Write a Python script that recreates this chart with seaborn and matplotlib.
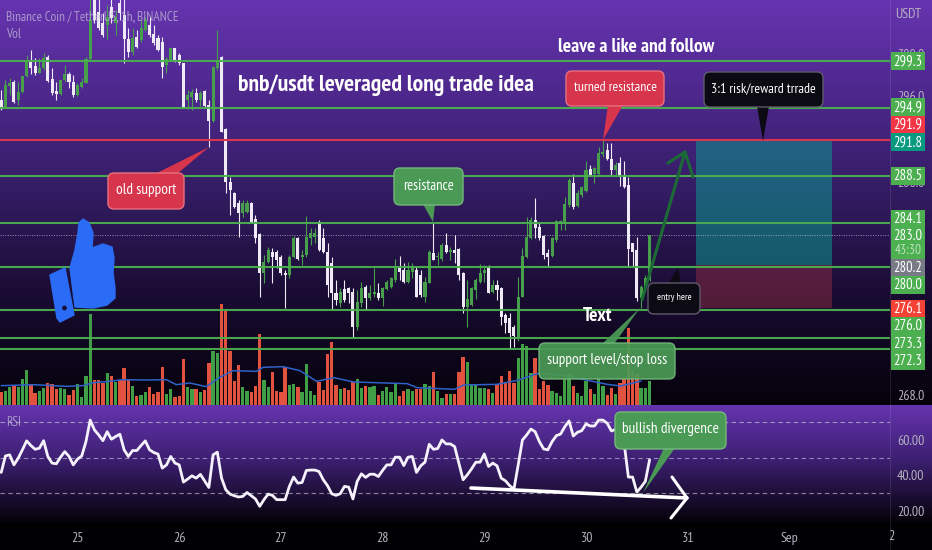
import numpy as np
import pandas as pd
import matplotlib
matplotlib.use("Agg")
import matplotlib.pyplot as plt
import seaborn as sns
from matplotlib import font_manager as fm
from matplotlib.patches import FancyBboxPatch, Polygon, Circle, Rectangle

# hourly BNB/USDT candles, first candle is Aug 24 06:00
opens = [295.65,294.86,296.96,297.36,295.65,296.43,297.90,299.33,298.83,298.20,298.61,299.71,297.58,296.49,296.21,297.52,298.08,297.36,296.10,296.83,
         297.27,299.46,305.40,303.93,302.83,302.68,304.40,302.83,304.70,303.60,301.33,300.18,301.58,301.27,302.20,302.68,301.80,301.43,301.11,298.93,
         299.40,300.55,299.86,299.08,295.65,295.90,296.33,295.65,296.52,295.18,293.71,298.61,299.71,292.90,288.00,286.96,286.02,285.02,285.18,285.96,
         284.46,283.05,279.46,280.49,281.43,281.43,280.96,279.46,279.20,280.89,282.68,280.95,281.11,282.68,282.83,284.24,282.68,281.43,280.34,277.59,
         276.59,277.93,277.99,277.68,274.40,276.59,278.09,277.05,277.45,277.59,277.05,277.90,278.15,278.77,279.87,279.71,278.62,279.55,279.71,279.24,
         277.20,278.52,281.27,280.90,280.71,282.06,281.40,281.59,281.65,279.40,276.27,276.43,277.84,278.62,279.40,279.87,277.68,278.30,277.99,275.49,
         275.18,274.40,273.40,277.21,280.90,282.68,284.40,283.77,282.90,281.27,281.02,282.52,284.00,284.24,285.80,287.90,285.71,286.74,287.15,289.15,
         288.71,288.71,290.60,290.96,290.08,289.09,289.71,288.52,287.68,282.21,281.59,277.05,277.99,278.80]
highs = [296.58,297.52,297.68,297.52,297.36,297.90,299.86,300.33,299.55,299.55,300.02,299.86,298.61,297.36,297.52,298.93,298.30,297.99,297.20,297.68,
         299.70,305.50,306.00,306.00,303.77,304.55,305.10,304.08,305.20,305.30,302.36,302.36,302.20,303.15,303.46,303.46,302.68,301.74,301.58,299.70,
         300.49,300.55,300.02,299.14,296.58,296.65,296.74,296.52,296.58,295.65,298.83,302.20,299.77,293.00,288.46,287.00,286.30,286.30,286.30,286.10,
         284.86,283.14,281.10,281.90,281.74,281.58,281.11,279.71,281.11,282.90,282.83,281.58,284.77,283.60,283.60,284.40,283.62,282.20,280.96,278.77,
         277.99,278.77,278.15,277.99,277.84,278.60,278.30,278.30,279.86,278.46,278.15,278.77,279.08,280.71,281.00,280.33,280.49,280.33,280.02,279.71,
         279.08,281.58,284.08,281.43,282.21,283.15,281.90,282.99,281.74,279.55,278.77,278.15,278.93,280.27,280.18,280.18,278.77,278.77,278.08,275.65,
         275.65,274.55,279.08,281.74,284.71,284.71,286.43,284.08,283.00,281.65,282.77,284.40,284.40,286.59,288.30,288.71,287.21,287.58,289.96,289.55,
         289.40,291.27,291.90,291.59,291.65,289.87,290.27,289.93,288.46,282.27,282.83,278.30,279.24,283.00]
lows = [294.70,294.86,296.10,295.33,295.18,296.27,297.77,298.08,297.99,298.14,298.50,297.36,296.10,295.65,296.10,297.36,296.74,295.96,296.00,296.74,
        297.20,299.40,302.83,302.20,301.58,301.33,302.83,301.74,303.15,299.08,299.71,299.86,300.49,301.11,302.14,301.58,300.80,300.27,297.68,298.14,
        299.33,299.24,298.93,294.86,294.77,294.71,295.49,295.08,295.02,291.27,293.60,298.46,292.68,286.90,284.86,285.49,282.77,284.70,285.02,284.08,
        282.20,277.20,278.46,280.33,278.52,279.86,279.24,276.11,278.92,280.80,280.65,280.20,280.96,282.05,282.21,281.50,281.27,277.20,276.00,276.43,
        276.27,276.74,276.58,273.40,274.08,276.27,275.96,276.90,277.21,276.90,276.33,277.84,278.00,278.62,278.77,278.46,278.52,278.93,277.14,277.21,
        276.74,278.46,280.65,280.18,280.58,281.27,280.65,280.33,278.77,275.65,274.40,276.33,276.96,278.52,278.62,277.52,277.59,276.90,274.55,273.77,
        272.27,272.52,273.09,277.15,280.80,282.58,282.68,282.52,280.71,279.96,280.90,282.36,283.46,283.46,285.65,285.40,285.65,286.58,287.05,288.52,
        287.90,288.62,290.27,290.02,288.52,288.62,287.58,287.37,280.02,280.02,276.84,276.12,277.84,278.70]
closes = [294.77,297.05,297.20,295.49,296.43,297.90,299.40,298.61,298.14,298.61,299.55,297.46,296.33,296.18,297.52,298.08,297.36,296.10,297.05,297.36,
          299.46,303.15,303.15,302.36,301.74,303.46,303.30,303.46,303.77,301.33,300.18,301.43,300.64,302.36,303.15,301.74,300.96,300.33,298.77,299.46,
          300.49,299.30,299.08,294.86,296.10,296.43,295.65,296.33,295.08,293.71,298.77,299.40,292.68,288.00,287.20,285.65,285.02,285.96,285.96,284.15,
          282.67,279.46,280.49,281.58,280.96,280.65,279.40,279.20,280.96,282.68,280.71,281.11,282.83,283.14,283.14,281.58,281.43,278.30,277.52,276.90,
          277.68,276.90,277.52,274.40,276.74,277.99,277.05,277.52,277.60,277.05,277.99,278.60,278.93,279.87,279.55,278.62,279.71,279.87,277.20,277.37,
          278.62,281.43,280.65,281.00,282.06,281.43,281.55,281.34,279.24,276.27,276.96,277.99,278.77,279.40,279.70,277.59,278.30,277.84,275.33,274.71,
          273.77,273.52,277.21,281.02,282.84,284.40,283.62,282.68,281.12,280.96,282.68,284.34,284.28,285.90,288.15,285.59,286.96,287.46,289.09,288.62,
          289.25,290.65,290.80,290.08,289.09,289.55,288.46,287.46,281.65,281.43,277.05,278.15,278.93,283.00]
volumes = [38,43,55,61,55,78,106,61,36,41,51,66,63,48,51,48,31,45,63,23,
           88,273,75,75,65,96,88,68,75,110,75,58,28,30,40,55,33,40,113,33,
           48,23,28,138,55,48,48,38,45,125,163,156,303,283,163,73,120,55,43,38,
           58,213,76,53,98,43,38,115,61,63,55,38,123,41,31,70,44,152,189,60,
           47,50,44,70,77,50,57,54,57,30,42,54,40,64,27,42,47,42,47,47,
           64,57,100,42,22,32,34,32,100,144,130,64,62,50,50,47,37,64,87,70,
           102,67,140,184,177,97,140,47,72,60,42,37,27,77,92,57,37,27,72,47,
           32,82,57,30,52,34,67,82,232,102,92,52,52,72]
rsi = [41.7,50.9,51.5,45.9,49.6,54.3,59.3,56.7,54.6,55.2,59.4,50.6,46.9,46.5,50.2,53.3,50.6,45.9,49.1,50.9,
       58.9,70.9,65.4,62.6,59.4,64.4,60.2,61.7,63.0,54.3,50.6,53.9,53.9,56.7,59.3,54.3,52.8,51.9,44.1,45.9,
       50.6,46.9,45.9,36.3,38.0,39.8,38.5,40.6,36.9,33.3,51.5,53.0,38.5,32.0,29.6,28.7,28.0,28.3,30.5,28.7,
       26.9,22.8,26.5,29.6,28.9,26.5,26.5,26.5,33.9,39.1,35.7,36.1,42.8,43.0,43.0,42.2,37.6,34.3,29.8,28.9,
       29.8,33.9,33.5,26.9,36.7,40.9,38.9,40.7,40.7,39.4,42.8,45.9,45.9,50.2,50.2,45.5,50.2,50.6,41.7,45.4,
       47.4,57.4,54.6,55.0,59.8,57.6,57.6,56.1,46.9,37.6,40.4,43.7,47.4,47.4,52.0,45.0,46.9,45.4,38.5,37.0,
       34.3,32.4,45.9,59.8,62.6,65.9,64.4,58.9,54.8,54.3,58.9,62.2,63.1,67.2,70.4,62.0,64.1,65.0,68.7,67.6,
       67.6,70.9,70.9,69.1,64.8,65.7,61.7,58.0,39.1,39.1,30.7,33.5,36.7,48.7]

# volume moving average, read at a few candles
vol_ma_hours = [-18,-10.5,-2.6,1.3,3.7,6.8,10.7,16.3,21,23.3,26.5,30.4,33.6,36.7,42.2,43.8,48.5,52.5,56.4,
                60.5,65.2,77.8,80.2,88.9,91.2,99,103.8,108.5,114,120,125,128.2,133]
vol_ma = [58,61,56,58,67,70,76,75,76,61,66,55,83,103,101,113,115,103,71,
          82,69,64,52,47,60,62,74,94,90,75,62,57,72]

support_levels = [299.3, 294.9, 288.5, 284.1, 280.0, 276.0, 273.3, 272.3]
resistance_level = 291.9
last_price = 283.0
entry_price = 280.2
target_price = 291.8
stop_price = 276.1
position_start, position_end = 146, 178

price_ticks = [268.0, 288.0, 296.0, 300.0]
rsi_ticks = [20, 40, 60]
rsi_bands = [30, 50, 70]
day_hours = [0, 24, 48, 72, 96, 120, 144, 168]
day_labels = ["25", "26", "27", "28", "29", "30", "31", "Sep"]

tag_labels = ["299.3", "294.9", "291.9", "291.8", "288.5", "284.1", "283.0", "280.2", "280.0", "276.1", "276.0", "273.3", "272.3"]
tag_colors = ["#4caf50", "#4caf50", "#f23645", "#089981", "#4caf50", "#4caf50", "#4caf50", "#787b86", "#4caf50", "#f44336", "#4caf50", "#4caf50", "#4caf50"]
tag_rows = [61, 107, 124.5, 142, 176, 219, 236, 268, 285, 309, 326, 344, 361]

GREEN = "#4caf50"
RED_LINE = "#d8364f"

sns.set_theme(style="dark")

# narrow face if the machine has one, otherwise Roboto a bit smaller
installed = {f.name for f in fm.fontManager.ttflist}
if "PT Sans Narrow" in installed:
    plt.rcParams["font.family"] = ["PT Sans Narrow", "DejaVu Sans"]
    FS = 1.0
else:
    plt.rcParams["font.family"] = ["Roboto", "DejaVu Sans"]
    FS = 0.8

W, H = 932, 550
X0_HOUR = -77.5 / 4.2375
X1_HOUR = (890 - 77.5) / 4.2375

fig = plt.figure(figsize=(W / 100, H / 100), dpi=100, facecolor="black")

# purple to black background, one ramp per pane
bg = fig.add_axes([0, 0, 1, 1], zorder=0)
rows = np.arange(H)
stops_y = [0, 100, 200, 300, 404, 405, 460, 521, 522, 550]
stops_c = np.array([[102, 52, 176], [76, 39, 138], [49, 27, 95], [24, 11, 48], [5, 2, 10],
                    [101, 52, 175], [60, 31, 112], [5, 2, 10], [1, 1, 3], [1, 1, 3]])
ramp = np.stack([np.interp(rows, stops_y, stops_c[:, i]) for i in range(3)], axis=1) / 255
bg.imshow(ramp[:, None, :], aspect="auto", extent=[0, W, H, 0])
bg.axvline(890, color="white", alpha=0.10, lw=0.8)
bg.axis("off")

# price pane with a hidden volume scale below the candles
ax_vol = fig.add_axes([0, (H - 405) / H, 890 / W, 405 / H], zorder=1)
ax = fig.add_axes([0, (H - 405) / H, 890 / W, 405 / H], zorder=2)
ax_rsi = fig.add_axes([0, (H - 521) / H, 890 / W, 116 / H], zorder=2)

hours = np.arange(len(opens)) - 18
df = pd.DataFrame({"hour": hours, "open": opens, "high": highs, "low": lows, "close": closes,
                   "volume": volumes, "rsi": rsi})
df["side"] = np.where(df["close"] >= df["open"], "up", "down")

ax_vol.patch.set_alpha(0)
sns.barplot(data=df, x="hour", y="volume", hue="side", native_scale=True, dodge=False, width=0.78,
            palette={"up": "#3f9e46", "down": "#e2533f"}, saturation=1, legend=False, linewidth=0, ax=ax_vol)
sns.lineplot(x=vol_ma_hours, y=vol_ma, color="#2f62c8", lw=1.1, ax=ax_vol)
ax_vol.set_xlim(X0_HOUR, X1_HOUR)
ax_vol.set_ylim(0, 1215)
ax_vol.axis("off")

ax.patch.set_alpha(0)
ax.add_patch(Rectangle((position_start, entry_price), position_end - position_start, target_price - entry_price,
                       fc="#0b978e", alpha=0.55, lw=0, zorder=1))
ax.add_patch(Rectangle((position_start, stop_price), position_end - position_start, entry_price - stop_price,
                       fc="#9b3345", alpha=0.45, lw=0, zorder=1))

candle_colors = np.where(df["side"] == "up", "#479f4c", "#efeaf6")
ax.vlines(df["hour"], df["low"], df["high"], colors=candle_colors, lw=0.8, zorder=3)
ax.bar(df["hour"], (df["close"] - df["open"]).abs().clip(lower=0.12), bottom=df[["open", "close"]].min(axis=1),
       width=0.72, color=candle_colors, lw=0, zorder=3)

for lvl in support_levels:
    ax.axhline(lvl, color=GREEN, lw=1.5, alpha=0.95, zorder=4)
ax.axhline(resistance_level, color=RED_LINE, lw=1.5, zorder=4)
ax.axhline(last_price, color="#c9c4d6", lw=0.7, ls=(0, (1, 1.5)), alpha=0.7, zorder=2)

ax.set_xlim(X0_HOUR, X1_HOUR)
ax.set_ylim(299.3 - (405 - 61) / 10.667, 299.3 + 61 / 10.667)
ax.set_xticks([])
ax.yaxis.tick_right()
ax.set_yticks(price_ticks)
ax.set_yticklabels([f"{v:.1f}" for v in price_ticks], color="#b5b2c0", fontsize=10 * FS)
ax.tick_params(axis="y", length=0, pad=5)
ax.set_xlabel("")
ax.set_ylabel("")
for s in ax.spines.values():
    s.set_visible(False)

# RSI pane
ax_rsi.patch.set_alpha(0)
for band in rsi_bands:
    ax_rsi.axhline(band, color="#c9c4d6", lw=0.8, ls=(0, (4, 3)), alpha=0.65, zorder=1)
sns.lineplot(data=df, x="hour", y="rsi", color="#f6f2fb", lw=2.0, ax=ax_rsi, zorder=3)
ax_rsi.set_xlim(X0_HOUR, X1_HOUR)
ax_rsi.set_ylim(14.6, 79.3)
ax_rsi.yaxis.tick_right()
ax_rsi.set_yticks(rsi_ticks)
ax_rsi.set_yticklabels([f"{v:.2f}" for v in rsi_ticks], color="#b5b2c0", fontsize=10 * FS)
ax_rsi.set_xticks(day_hours)
ax_rsi.set_xticklabels(day_labels, color="#b5b2c0", fontsize=10 * FS)
ax_rsi.tick_params(axis="y", length=0, pad=5)
ax_rsi.tick_params(axis="x", length=0, pad=8)
ax_rsi.set_xlabel("")
ax_rsi.set_ylabel("")
for s in ax_rsi.spines.values():
    s.set_visible(False)

# drawings on top, in picture coordinates
ov = fig.add_axes([0, 0, 1, 1], zorder=5)
ov.set_xlim(0, W)
ov.set_ylim(H, 0)
ov.axis("off")


def callout(x0, y0, x1, y1, pointer, face, edge, text, size=11, alpha=1.0):
    ov.add_patch(Polygon(pointer, closed=True, fc=face, ec="none", alpha=alpha, zorder=6))
    ov.add_patch(FancyBboxPatch((x0, y0), x1 - x0, y1 - y0, boxstyle="round,pad=0,rounding_size=6",
                                fc=face, ec=edge, lw=1, alpha=alpha, zorder=6))
    ov.text((x0 + x1) / 2, (y0 + y1) / 2 - 1, text, color="white", fontsize=size * FS, ha="center", va="center", zorder=7)


RED_BOX, RED_EDGE = "#d6354c", "#e8707f"
GRN_BOX, GRN_EDGE = "#4a9a55", "#74b87c"
BLK_BOX, BLK_EDGE = "#0c0a12", "#5f5a6c"
callout(566, 71, 664, 106, [(608, 105), (623, 105), (603, 140)], RED_BOX, RED_EDGE, "turned resistance", size=10)
callout(108, 173, 184, 209, [(155, 174), (177, 174), (209, 147)], RED_BOX, RED_EDGE, "old support", size=11)
callout(394, 168, 463, 205, [(423, 204), (435, 204), (433, 222)], GRN_BOX, GRN_EDGE, "resistance", size=10.5)
callout(704, 72, 823, 107, [(757, 106), (769, 106), (763, 141)], BLK_BOX, BLK_EDGE, "3:1 risk/reward trrade", size=10)
callout(648, 283, 700, 314, [(668, 284), (678, 268), (681, 284)], BLK_BOX, BLK_EDGE, "entry here", size=7)
callout(539, 343, 675, 379, [(602, 344), (614, 344), (640, 308)], GRN_BOX, GRN_EDGE, "support level/stop loss", size=11, alpha=0.93)
callout(615, 412, 726, 449, [(664, 448), (675, 448), (643, 493)], GRN_BOX, GRN_EDGE, "bullish divergence", size=11)

ov.text(386, 85, "bnb/usdt leveraged long trade idea", color="white", fontsize=17 * FS, fontweight="bold", ha="center", va="center")
ov.text(636, 47, "leave a like and follow", color="white", fontsize=14 * FS, fontweight="bold", ha="center", va="center")
ov.text(598, 316, "Text", color="white", fontsize=14 * FS, fontweight="bold", ha="center", va="center")

# hand drawn arrows
ov.plot([642, 685], [300, 152], color="#1c6a35", lw=2.2, solid_capstyle="round", zorder=5)
ov.plot([668, 685, 693], [163, 152, 177], color="#1c6a35", lw=2.2, solid_joinstyle="round", zorder=5)
ov.plot([471, 687], [488, 498], color="white", lw=2.6, solid_capstyle="round", zorder=5)
ov.plot([672, 687, 671], [477, 498, 518], color="white", lw=2.2, solid_joinstyle="round", zorder=5)

# thumbs up
THUMB = "#2a6cf5"
ov.add_patch(Polygon([(75, 307), (70, 268), (75, 250), (78, 233), (79, 223), (83, 219), (89, 223), (93, 233),
                      (92, 248), (103, 244), (112, 247), (114, 258), (113, 273), (115, 288), (115, 298),
                      (107, 305), (93, 308)], closed=True, fc=THUMB, ec=THUMB, lw=1, joinstyle="round", zorder=5))
ov.add_patch(Polygon([(50, 275), (65, 268), (74, 315), (60, 322), (57, 318)], closed=True, fc=THUMB, ec=THUMB, lw=1,
                     joinstyle="round", zorder=5))
ov.add_patch(Circle((64.5, 308), 2.4, fc="#17103a", ec="none", zorder=6))

# chart header
ov.text(6, 17, "Binance Coin / TetherUS, 1h, BINANCE", color="#c3bcd6", alpha=0.75, fontsize=9.5 * FS, va="center")
ov.text(6, 34, "Vol", color="#c3bcd6", alpha=0.75, fontsize=9.5 * FS, va="center")
ov.text(6, 423, "RSI", color="#c3bcd6", alpha=0.75, fontsize=9.5 * FS, va="center")
ov.text(908, 14, "USDT", color="#b5b2c0", fontsize=10 * FS, ha="center", va="center")

# price tags on the right scale
ov.add_patch(Rectangle((891, 243), 34, 17, fc=GREEN, lw=0, zorder=7))
ov.text(908, 251, "43:30", color="#bfe3c0", fontsize=9.5 * FS, ha="center", va="center", zorder=8)
for label, colour, row in zip(tag_labels, tag_colors, tag_rows):
    ov.add_patch(Rectangle((891, row - 8.7), 34, 17.4, fc=colour, lw=0, zorder=7))
    ov.text(908, row, label, color="white", fontsize=10.5 * FS, ha="center", va="center", zorder=8)

# the "2" day label is cut by the price scale
two = ov.text(891, 536, "2", color="#b5b2c0", fontsize=10 * FS, ha="center", va="center")
two.set_clip_path(Rectangle((0, 521), 890, 29, transform=ov.transData))

fig.savefig("out.png", dpi=100, facecolor="black")
